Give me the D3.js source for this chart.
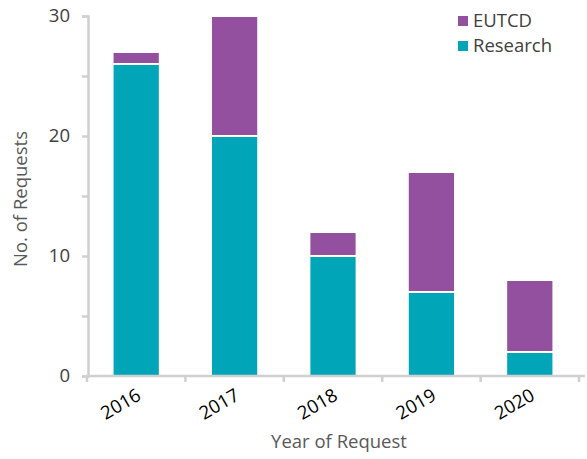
<!DOCTYPE html>
<html>
<head>
<meta charset="utf-8">
<script src="https://cdn.jsdelivr.net/npm/d3@7"></script>
<style>
  body { margin: 0; background: #fff; }
  text { font-family: "Open Sans", Lato, sans-serif; }
</style>
</head>
<body>
<script>
const years = ["2016", "2017", "2018", "2019", "2020"]
const research = [26, 20, 10, 7, 2]
const eutcd = [1, 10, 2, 10, 6]
const seriesNames = ["Research", "EUTCD"]
const colors = {Research: "#00a6b8", EUTCD: "#93509e"}
const yTicks = [0, 10, 20, 30]

const width = 587, height = 459
const fs = 18.5
const rows = years.map((y, i) => ({year: y, Research: research[i], EUTCD: eutcd[i]}))

const svg = d3.select("body").append("svg")
  .attr("width", width)
  .attr("height", height)

const x = d3.scaleBand()
  .domain(years)
  .range([87, 579])
  .paddingInner(0.52)
  .paddingOuter(0.26)

const y = d3.scaleLinear()
  .domain([0, 30])
  .range([376, 16])

const stack = d3.stack().keys(seriesNames)(rows)

// bars
svg.append("g").selectAll("g")
  .data(stack)
  .join("g")
  .attr("fill", d => colors[d.key])
  .selectAll("rect")
  .data(d => d)
  .join("rect")
  .attr("x", d => x(d.data.year))
  .attr("width", x.bandwidth())
  .attr("y", d => y(d[1]))
  .attr("height", d => y(d[0]) - y(d[1]))
  .attr("stroke", "#fff")
  .attr("stroke-width", 2)

const axisColor = "#d0d0d0"

// y axis
const yAxis = svg.append("g")
  .attr("transform", "translate(88,0)")
  .call(d3.axisLeft(y).tickValues(d3.range(0, 31, 5)).tickSize(6).tickFormat(""))
yAxis.select(".domain").attr("stroke", axisColor).attr("stroke-width", 2.5)
yAxis.selectAll(".tick line").attr("stroke", axisColor).attr("stroke-width", 2.5)

svg.append("g").selectAll("text")
  .data(yTicks)
  .join("text")
  .attr("x", 70)
  .attr("y", d => y(d))
  .attr("dy", "0.35em")
  .attr("text-anchor", "end")
  .attr("fill", "#404040")
  .attr("font-size", fs)
  .text(d => d)

// x axis
const xLine = svg.append("g")
const xEdges = years.map(d => x(d) - x.step() * x.paddingInner() / 2)
xEdges.push(x(years[years.length - 1]) + x.bandwidth() + x.step() * x.paddingInner() / 2)
xLine.append("line")
  .attr("x1", 86).attr("x2", 585)
  .attr("y1", 376).attr("y2", 376)
  .attr("stroke", axisColor).attr("stroke-width", 2.5)
xLine.selectAll(".xt")
  .data(xEdges)
  .join("line")
  .attr("class", "xt")
  .attr("x1", d => d).attr("x2", d => d)
  .attr("y1", 376).attr("y2", 382)
  .attr("stroke", axisColor).attr("stroke-width", 2.5)

svg.append("g").selectAll("text")
  .data(years)
  .join("text")
  .attr("transform", d => `translate(${x(d) + x.bandwidth() / 2 + 6},${399}) rotate(-30)`)
  .attr("text-anchor", "end")
  .attr("fill", "#000")
  .attr("font-size", fs)
  .text(d => d)

// axis titles
svg.append("text")
  .attr("x", 339)
  .attr("y", 448)
  .attr("text-anchor", "middle")
  .attr("fill", "#595959")
  .attr("font-size", fs)
  .text("Year of Request")

svg.append("text")
  .attr("transform", "translate(27,199) rotate(-90)")
  .attr("text-anchor", "middle")
  .attr("fill", "#595959")
  .attr("font-size", fs)
  .text("No. of Requests")

// legend
const legend = svg.append("g").selectAll("g")
  .data(["EUTCD", "Research"])
  .join("g")
  .attr("transform", (d, i) => `translate(458,${21 + i * 25})`)
legend.append("rect")
  .attr("x", 0).attr("y", -5)
  .attr("width", 10).attr("height", 10)
  .attr("fill", d => colors[d])
legend.append("text")
  .attr("x", 15)
  .attr("dy", "0.35em")
  .attr("fill", "#404040")
  .attr("font-size", fs)
  .text(d => d)
</script>
</body>
</html>
